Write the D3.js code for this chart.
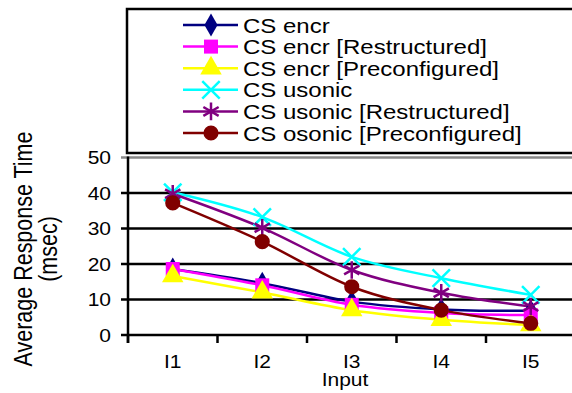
<!DOCTYPE html>
<html>
<head>
<meta charset="utf-8">
<script src="https://cdn.jsdelivr.net/npm/d3@7"></script>
<style>
  body { margin: 0; background: #fff; }
  text { font-family: Arial, "Liberation Sans", sans-serif; fill: #000; }
</style>
</head>
<body>
<div id="chart"></div>
<script>
// Declare constants
const WIDTH = 572;
const HEIGHT = 393;
const STRETCH = 1.2; // the source picture is wider than tall

// Data
const inputs = ["I1", "I2", "I3", "I4", "I5"];
const yTicks = [0, 10, 20, 30, 40, 50];
const seriesNames = [
  "CS encr",
  "CS encr [Restructured]",
  "CS encr [Preconfigured]",
  "CS usonic",
  "CS usonic [Restructured]",
  "CS osonic [Preconfigured]"
];
const csEncr = [18.6, 14.6, 9.4, 7.2, 6.8];
const csEncrRestr = [18.6, 14.0, 8.5, 6.2, 5.6];
const csEncrPre = [16.6, 12.0, 7.0, 4.3, 2.8];
const csUsonic = [40.2, 33.2, 22.0, 16.0, 11.3];
const csUsonicRestr = [39.8, 30.2, 18.3, 11.9, 8.0];
const csOsonicPre = [37.2, 26.3, 13.6, 7.0, 3.3];

const allSeries = [csEncr, csEncrRestr, csEncrPre, csUsonic, csUsonicRestr, csOsonicPre];
const colors = ["#000080", "#ff00ff", "#ffff00", "#00ffff", "#800080", "#800000"];
const symbols = [d3.symbolDiamond, d3.symbolSquare, d3.symbolTriangle, d3.symbolTimes, d3.symbolAsterisk, d3.symbolCircle];
const symSize = [150, 196, 200, 200, 220, 180];
const stroked = [false, false, false, true, true, false];

const svg = d3.select("#chart").append("svg")
  .attr("width", WIDTH)
  .attr("height", HEIGHT);

// scales
const x = d3.scaleBand().domain(inputs).range([128, 575.5]);
const y = d3.scaleLinear().domain([0, 50]).range([335, 157.5]);

// stretched text helper
function label(g, tx, ty, str, size, anchor, sx) {
  return g.append("text")
    .attr("transform", `translate(${tx},${ty}) scale(${sx || STRETCH},1)`)
    .attr("text-anchor", anchor)
    .style("font-size", size + "px")
    .text(str);
}

// Legend box
svg.append("rect")
  .attr("x", 127).attr("y", 9)
  .attr("width", 470).attr("height", 144)
  .attr("fill", "#fff")
  .attr("stroke", "#000").attr("stroke-width", 2.5);

const legend = svg.append("g");
seriesNames.forEach((name, i) => {
  const cy = 25 + i * 21.6;
  legend.append("line")
    .attr("x1", 183).attr("x2", 238)
    .attr("y1", cy).attr("y2", cy)
    .attr("stroke", colors[i]).attr("stroke-width", 2.5);
  legend.append("path")
    .attr("transform", `translate(211,${cy})`)
    .attr("d", d3.symbol(symbols[i], symSize[i])())
    .attr("fill", stroked[i] ? "none" : colors[i])
    .attr("stroke", colors[i])
    .attr("stroke-width", stroked[i] ? 2.5 : 0);
  label(legend, 243, cy + 7.5, name, 20, "start", 1.2);
});

// grid lines
svg.append("g").selectAll("line")
  .data(yTicks)
  .join("line")
    .attr("x1", 121).attr("x2", WIDTH)
    .attr("y1", d => y(d)).attr("y2", d => y(d))
    .attr("stroke", d => d === 50 ? "#888" : "#000")
    .attr("stroke-width", 2.5);

// y axis
svg.append("line")
  .attr("x1", 128).attr("x2", 128)
  .attr("y1", y(50) - 1).attr("y2", y(0) + 8)
  .attr("stroke", "#000").attr("stroke-width", 2.5);

// y tick labels
yTicks.forEach(t => label(svg, 111, y(t) + 6.5, t, 17.5, "end"));

// x ticks at band edges
const edges = inputs.map(d => x(d)).concat([x.range()[1]]);
svg.append("g").selectAll("line")
  .data(edges)
  .join("line")
    .attr("x1", d => d).attr("x2", d => d)
    .attr("y1", y(0)).attr("y2", y(0) + 8)
    .attr("stroke", "#000").attr("stroke-width", 2.5);

inputs.forEach(d => label(svg, x(d) + x.bandwidth() / 2, 368, d, 17.5, "middle"));

// axis titles
label(svg, 345, 386, "Input", 17.5, "middle");
svg.append("text")
  .attr("transform", `translate(32,249) scale(${STRETCH},1) rotate(-90)`)
  .attr("text-anchor", "middle")
  .style("font-size", "21.5px")
  .text("Average Response Time");
svg.append("text")
  .attr("transform", `translate(57,249) scale(${STRETCH},1) rotate(-90)`)
  .attr("text-anchor", "middle")
  .style("font-size", "21.5px")
  .text("(msec)");

// series lines
const line = d3.line()
  .x((d, i) => x(inputs[i]) + x.bandwidth() / 2)
  .y(d => y(d))
  .curve(d3.curveCatmullRom.alpha(0));

const plot = svg.append("g");
allSeries.forEach((vals, i) => {
  plot.append("path")
    .attr("d", line(vals))
    .attr("fill", "none")
    .attr("stroke", colors[i])
    .attr("stroke-width", 2.5);
});

// markers
allSeries.forEach((vals, i) => {
  plot.append("g").selectAll("path")
    .data(vals)
    .join("path")
      .attr("transform", (d, j) => `translate(${x(inputs[j]) + x.bandwidth() / 2},${y(d)})`)
      .attr("d", d3.symbol(symbols[i], symSize[i]))
      .attr("fill", stroked[i] ? "none" : colors[i])
      .attr("stroke", colors[i])
      .attr("stroke-width", stroked[i] ? 2.5 : 0);
});
</script>
</body>
</html>
